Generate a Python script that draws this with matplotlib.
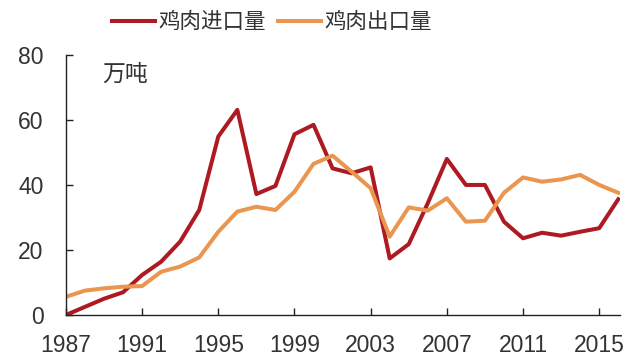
import matplotlib
matplotlib.use("Agg")
import matplotlib.pyplot as plt

plt.rcParams['font.family'] = ['Liberation Sans', 'Noto Sans CJK SC', 'DejaVu Sans']

years = list(range(1987, 2017))
imports = [0, 2.5, 5, 7, 12.3, 16.4, 22.6, 32.3, 54.9, 63.1, 37.2, 39.7, 55.6, 58.5,
           45.1, 43.6, 45.4, 17.4, 21.8, 34.4, 48, 40, 40, 28.7, 23.6, 25.3, 24.4, 25.6, 26.7, 35.6]
exports = [5.6, 7.5, 8.2, 8.7, 8.9, 13.3, 14.9, 17.7, 25.6, 31.8, 33.3, 32.3, 37.9, 46.5,
           49, 44.1, 39, 24.1, 33.1, 32.1, 35.9, 28.7, 29, 37.6, 42.3, 41, 41.7, 43.1, 40, 37.6]
series_names = ['鸡肉进口量', '鸡肉出口量']
xticks = [1987, 1991, 1995, 1999, 2003, 2007, 2011, 2015]
yticks = [0, 20, 40, 60, 80]
unit = '万吨'

text_color = '#333333'
fig = plt.figure(figsize=(6.4, 3.59), dpi=100)
ax = fig.add_axes([0.103, 0.1226, 0.866, 0.7244])

ax.plot(years, imports, color='#AE1A22', lw=2.9, label=series_names[0])
ax.plot(years, exports, color='#EA9650', lw=2.9, label=series_names[1])

ax.set_xlim(1987, 2016.1)
ax.set_ylim(0, 80)
ax.set_xticks(xticks)
ax.set_yticks(yticks)
for s in ['top', 'right']:
    ax.spines[s].set_visible(False)
for s in ['left', 'bottom']:
    ax.spines[s].set_color('#222222')
    ax.spines[s].set_linewidth(1.0)
ax.tick_params(axis='both', direction='in', length=5, width=1.0, colors='#222222',
               labelsize=16.5, labelcolor=text_color)
ax.tick_params(axis='x', pad=14)
ax.tick_params(axis='y', pad=16)

ax.text(0.065, 0.925, unit, transform=ax.transAxes, fontsize=16.5, color=text_color,
        va='center', ha='left')

fig.legend(loc='upper center', bbox_to_anchor=(0.425, 1.02), ncol=2, frameon=False,
           fontsize=15.5, handlelength=2.0, handletextpad=0.15, columnspacing=0.55,
           labelcolor=text_color)

fig.savefig('out.png', dpi=100)
